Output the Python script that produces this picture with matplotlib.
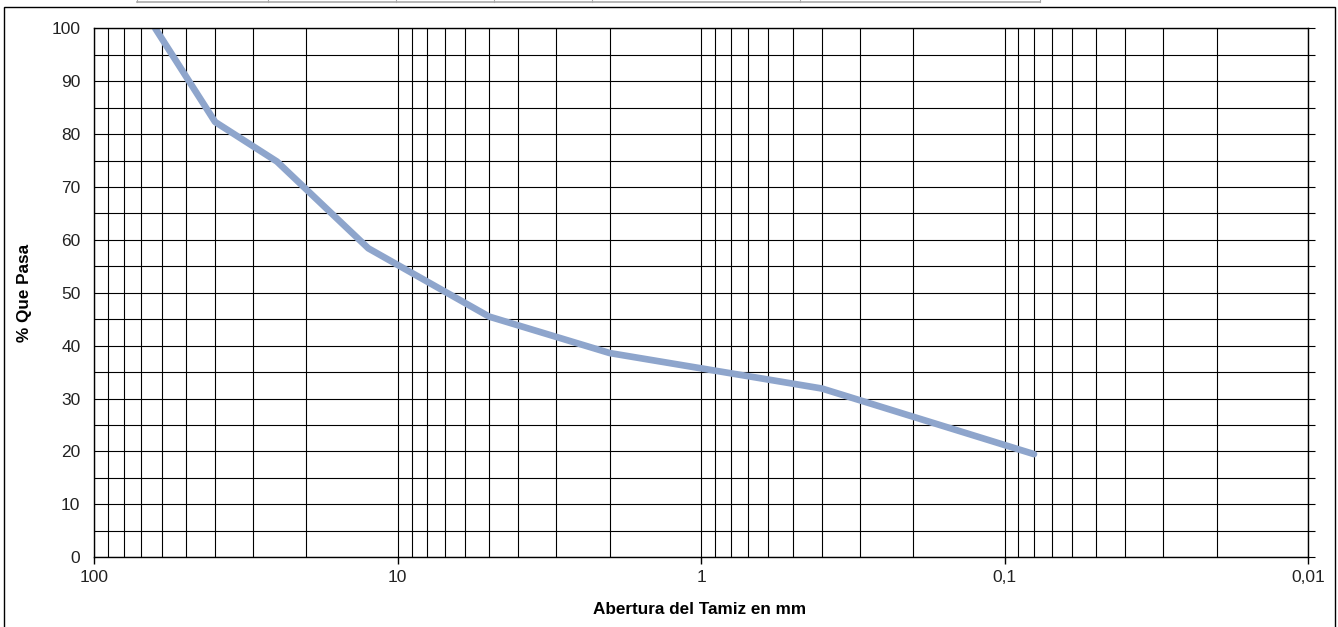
import numpy as np
import matplotlib
matplotlib.use("Agg")
import matplotlib.pyplot as plt
from matplotlib.ticker import LogLocator, NullFormatter, MultipleLocator

plt.rcParams['font.family'] = ['Liberation Sans', 'DejaVu Sans']

# granulometria: abertura (mm) vs % que pasa
abertura = [63, 40, 25, 12.5, 5, 2, 0.4, 0.08]
pasa = [100, 82.3, 74.8, 58.4, 45.5, 38.6, 31.9, 19.5]
xticks = [100, 10, 1, 0.1, 0.01]
xlabels = ['100', '10', '1', '0,1', '0,01']

fig = plt.figure(figsize=(13.38, 6.27), dpi=100)
ax = fig.add_axes([0.0705, 0.1112, 0.9071, 0.8437])

ax.plot(abertura, pasa, color='#8EA5CC', lw=4.8, solid_capstyle='round', clip_on=True)

ax.set_xscale('log')
ax.set_xlim(100, 0.01)
ax.set_ylim(0, 100)
ax.set_xticks(xticks)
ax.set_xticklabels(xlabels)
ax.xaxis.set_minor_locator(LogLocator(base=10, subs=np.arange(2, 10)))
ax.xaxis.set_minor_formatter(NullFormatter())
ax.yaxis.set_major_locator(MultipleLocator(10))
ax.yaxis.set_minor_locator(MultipleLocator(5))

ax.grid(which='both', color='black', lw=0.8)
ax.set_axisbelow(True)
for s in ax.spines.values():
    s.set_color('black')
    s.set_linewidth(1.0)

ax.tick_params(axis='x', which='major', direction='out', length=5, width=1, labelsize=12.5, pad=4)
ax.tick_params(axis='x', which='minor', bottom=False)
ax.tick_params(axis='y', which='both', left=False, right=True, labelleft=True, direction='out', length=5, width=0.8, labelsize=12.5, pad=5)
for lbl in ax.get_xticklabels() + ax.get_yticklabels():
    lbl.set_color('#222222')

ax.set_xlabel('Abertura del Tamiz en mm', fontsize=12.3, fontweight='bold')
ax.xaxis.set_label_coords(0.4985, -0.085)
ax.set_ylabel('% Que Pasa', fontsize=12.3, fontweight='bold')
ax.yaxis.set_label_coords(-0.051, 0.5)

# marco exterior
fig.patches.append(plt.Rectangle((3.5/1338, -0.05), (1335-3.5)/1338, 1.05 - 7.5/627,
                                 transform=fig.transFigure, fill=False, ec='black', lw=1.0))
# restos de la tabla superior
fig.add_artist(plt.Line2D([137/1338, 1040/1338], [1 - 2/627, 1 - 2/627], transform=fig.transFigure, color='#aaaaaa', lw=1.2))
for xp in [137, 268, 396, 494, 592, 800, 1040]:
    fig.add_artist(plt.Line2D([xp/1338, xp/1338], [1 - 2/627, 1.0], transform=fig.transFigure, color='#aaaaaa', lw=0.8))

fig.savefig('out.png', dpi=100)
